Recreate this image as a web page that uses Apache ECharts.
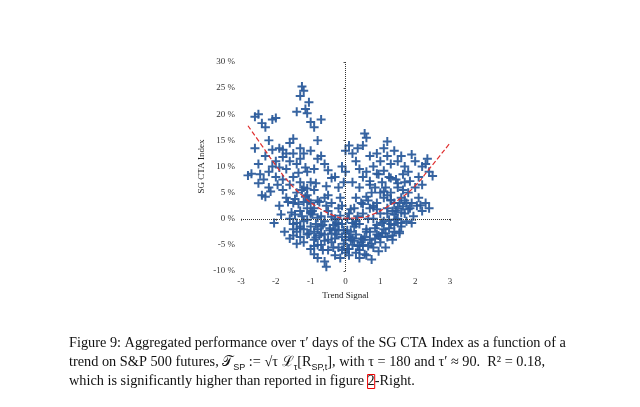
<!DOCTYPE html>
<html><head><meta charset="utf-8">
<script src="https://cdn.jsdelivr.net/npm/echarts@6/dist/echarts.min.js"></script>
<style>html,body{margin:0;padding:0;background:#fff}#container{width:640px;height:407px}</style>
</head><body><div id="container"></div>
<script>
// trend signal (x) and SG CTA index performance in % (y)
var sigX = [-2.8,-2.7,-2.6,-2.5,-2.4,-2.3,-2.2,-2.1,-2.0,-2.5,-2.4,-2.3,-2.2,-2.1,-2.0,-1.9,-1.8,-1.7,-1.6,-1.5,-1.4,-1.3,-1.25,-1.2,-1.15,-1.1,-1.05,-1.0,-0.9,-0.8,-0.7,-2.5,-2.6,-2.05,-1.6,-1.9,-1.8,-1.7,-1.6,-1.5,-1.4,-1.3,-1.2,-1.1,-1.0,-0.9,-0.8,-0.7,-0.6,-0.5,-0.4,-2.2,-2.0,-1.9,-1.8,-1.7,-1.6,-1.5,-1.4,-1.3,-1.2,-1.1,-1.0,-0.9,-1.8,-1.5,-1.3,-1.0,-0.9,-2.3,-2.1,-1.95,-2.35,
 -1.6,-1.5,-1.4,-1.3,-1.2,-1.1,-1.0,-0.9,-0.8,-0.7,-0.6,-0.5,-0.4,-0.3,-0.2,-0.1,0,0.1,0.2,-0.8,-0.6,-0.55,-0.9,-1.0,-1.2,-1.4,-1.5,-0.7,-0.5,-0.3,-0.1,0.1,-0.4,-0.2,-0.6,-0.8,-1.1,-1.3,-0.95,-0.75,-0.45,-0.25,-0.05,0.15,-0.35,-0.15,0.05,-0.65,-0.85,-1.05,-1.25,-1.45,-0.15,-0.05,0.0,0.1,0.2,0.3,-0.1,0.4,0.5,0.6,0.55,0.35,-0.3,-0.2,0.0,
 0.3,0.4,0.5,0.6,0.7,0.8,0.9,1.0,1.1,1.2,1.3,1.4,1.5,1.6,1.7,0.3,0.4,0.5,0.6,0.7,0.8,0.9,1.0,1.1,1.2,1.3,1.4,1.5,1.6,1.7,1.8,1.9,2.0,2.1,2.2,2.3,2.35,2.4,2.5,2.3,2.4,2.2,2.1,2.0,1.9,1.8,1.7,1.6,1.5,1.4,1.3,1.2,1.1,1.0,0.9,0.8,0.7,0.6,0.5,0.4,0.3,0.2,1.2,1.05,0.95,0.85,0.75,0.65,0.45,0.35,0.25,1.15,0.95,0.75,0.55,1.35,1.55,1.75,1.85,1.95,2.05,1.65,1.45,1.25,1.15,1.35,1.05,0.85,0.65,0.45,0.25,1.55,1.75,1.25,1.45,0.15,0.05,
 -1.3,-1.1,-0.9,-0.7,-0.5,-0.3,-0.1,0.1,0.3,0.5,0.7,0.9,1.1,1.3,1.5,-1.2,-1.0,-0.8,-0.6,-0.4,-0.2,0.0,0.2,0.4,0.6,0.8,1.0,1.2,1.4,1.6,
 -1.55,-1.35,-1.15,-0.95,-0.75,-0.55,-0.35,-0.15,0.05,0.25,0.45,0.65,0.85,1.05,1.25,1.45,1.65,-1.45,-1.25,-1.05,-0.85,-0.65,-0.45,-0.25,-0.05,0.15,0.35,0.55,0.75,0.95,1.15,1.35,1.55,
 -1.5,-1.3,-1.1,-0.9,-0.7,-0.5,-0.3,-0.1,0.1,0.3,0.5,0.7,0.9,1.1,1.3,1.5,1.7,-1.4,-1.2,-1.0,-0.8,-0.6,-0.4,-0.2,0.0,0.2,0.4,0.6,0.8,1.0,1.2,1.4,1.6,1.8,
 -1.65,-1.85,-2.15,-2.45,-1.75,-1.35,-1.15,-0.85,-0.55,1.65,1.85,2.15,1.9,2.2,1.1,1.3,0.9,0.7];
var ctaY = [8.3,8.6,19.5,20,18.3,17.5,15,19,19.3,6.8,4.5,4.2,6,10,11,13.5,13.2,12.5,14.5,15.3,20.5,23.5,25.3,24.5,21,20.2,22.3,18.5,17.5,15,19,10.5,13.5,-0.8,-3.8,2.5,7.5,9.5,11,8,10.5,11.5,12.5,9,7,5.5,11.5,12,10.5,9.3,7.8,9,8,9.8,5.5,4,6.5,3,5,7,6,4.5,3,2,11.8,12.5,13.5,13,9.5,12,13.2,6.5,7.5,
 0,-1,-2.5,1.5,-0.5,-3,-1.5,-4,-2,-5,-3,-6,-4.5,-7,-5.5,-3.5,-6.5,-7,-5,-7.5,-8.2,-9.2,-6.8,-5.8,-4.5,-4.8,-2,0.5,1.5,0,-1,1,3,2,4,3.5,2,-1.8,0.8,-3.2,-1.8,-3,-4.8,-2.5,-5.5,-7.5,-5.8,-6,-1,-2.8,0.5,0.8,4,7,13,14,12.5,11,10,9.5,14,15.5,16.3,13.5,8,6,9,
 -6.5,-7.5,-5,-7,-4,-5.5,-3,-4.5,-2,-3.5,-1,-2.5,0,-1.5,1,-3,-1,1,-2,2,0,3,1,4,2,5,3,6,4,7,5,3,6,8,10,10.5,11.5,9,8.2,3,2,1.5,4,11,12.3,9,10,12,11,13,10.5,12,13.5,11,12.5,10,12,9,8,6,4,7,14.8,7,8.5,6,5,3.5,3,0.5,-1.5,-5.5,-6.2,-7.8,-6.8,-4,-2.8,-0.5,2,0.5,2.5,5.5,7.5,8,6,1.5,-0.8,-1.8,0,-3.8,2,3,3,-1.8,-0.2,-4,0,
 -3.5,-0.2,-2.5,-1.5,-4,-2,-6,-3.5,-1,-4,-2.5,-1.2,-0.5,3.5,2,-2,1,-5,-0.5,-2.8,-1,-4,-0.8,-6,-2.5,2.5,5,1,-1.2,-0.8,
 1.2,2.8,4.2,1.5,3.2,2.5,-1.2,0.6,-2.2,-4.2,-4.5,-5.2,-3.8,-2.8,-0.2,1.6,2.4,3.8,5.5,3.5,-3.6,-1.2,-2.2,-0.8,-2.2,1.8,-5.2,-3.5,-4.8,-3.2,-2.8,-3.2,-2.5,
 -3.2,-1.5,5.8,-5.2,-2.8,4.5,-3.8,2.5,-5.8,-0.5,2.8,6.5,1.8,5.2,3.6,6.8,3.5,-0.8,3.2,1.2,0.2,-4.2,0.4,-2.2,-2.8,-3.8,-5.2,4.2,2.2,-3.4,4.5,0.8,1.2,1.8,
 3.2,0.8,5.2,8.5,-2.5,8.8,9.8,6.8,6.2,8.5,7.2,2.6,-0.8,6.5,9.2,7.8,8.6,7.2];
// fitted quadratic (dashed red)
var curveX = [-2.8,-2.4,-2.0,-1.6,-1.2,-0.8,-0.4,0,0.4,0.8,1.2,1.6,2.0,2.4,3.0];
var curveY = [17.8,14.0,10.2,6.8,4.2,2.2,0.8,0.1,0.2,0.9,2.3,4.0,6.3,9.5,14.5];

var pts = sigX.map(function(x,i){return [x,ctaY[i]];});
var line = curveX.map(function(x,i){return [x,curveY[i]];});
var plus = 'path://M3.9,0L6.1,0L6.1,3.9L10,3.9L10,6.1L6.1,6.1L6.1,10L3.9,10L3.9,6.1L0,6.1L0,3.9L3.9,3.9Z';
var serif = 'Liberation Serif';

var chart = echarts.init(document.getElementById('container'));
chart.setOption({
	animation:false,
	grid:{left:241,right:190,top:62,bottom:136},
	xAxis:{type:'value',min:-3,max:3,interval:1,
		name:'Trend Signal',nameLocation:'middle',nameGap:17,
		nameTextStyle:{fontFamily:serif,fontSize:9,color:'#222'},
		axisLine:{show:false},axisTick:{show:true,length:2,lineStyle:{color:'#555'}},
		splitLine:{show:false},
		axisLabel:{fontFamily:serif,fontSize:9,color:'#333',margin:6}},
	yAxis:{type:'value',min:-10,max:30,interval:5,
		name:'SG CTA Index',nameLocation:'middle',nameGap:35,
		nameTextStyle:{fontFamily:serif,fontSize:9,color:'#222'},
		axisLine:{show:false},axisTick:{show:true,length:2,lineStyle:{color:'#555'}},
		splitLine:{show:false},
		axisLabel:{formatter:'{value} %',fontFamily:serif,fontSize:9,color:'#333',margin:6}},
	series:[{
		type:'scatter',data:pts,symbol:plus,symbolSize:9,
		itemStyle:{color:'#2c5c9c',opacity:0.95},
		markLine:{silent:true,symbol:'none',label:{show:false},
			lineStyle:{color:'#333',type:'dotted',width:1},
			data:[{xAxis:0},{yAxis:0}]}
	},{
		type:'line',data:line,smooth:true,showSymbol:false,
		lineStyle:{color:'#e03030',type:'dashed',width:1.2},z:5
	}],
	graphic:[{
		type:'text',left:69,top:334,
		style:{
			text:'Figure 9: Aggregated performance over τ′ days of the SG CTA Index as a function of a\n'+
				'trend on S&P 500 futures, {i|𝒯}{s|SP} := √τ ℒ{s|τ}[{i|R}{s|SP,t}], with τ = 180 and τ′ ≈ 90.  R² = 0.18,\n'+
				'which is significantly higher than reported in figure {r|2}-Right.',
			fontFamily:serif,fontSize:14.3,lineHeight:19,fill:'#111',
			rich:{s:{fontSize:9,verticalAlign:'bottom',padding:[6,0,0,0]},i:{fontStyle:'italic'},
				r:{borderColor:'#e00',borderWidth:1}}
		}
	}]
});
</script></body></html>
